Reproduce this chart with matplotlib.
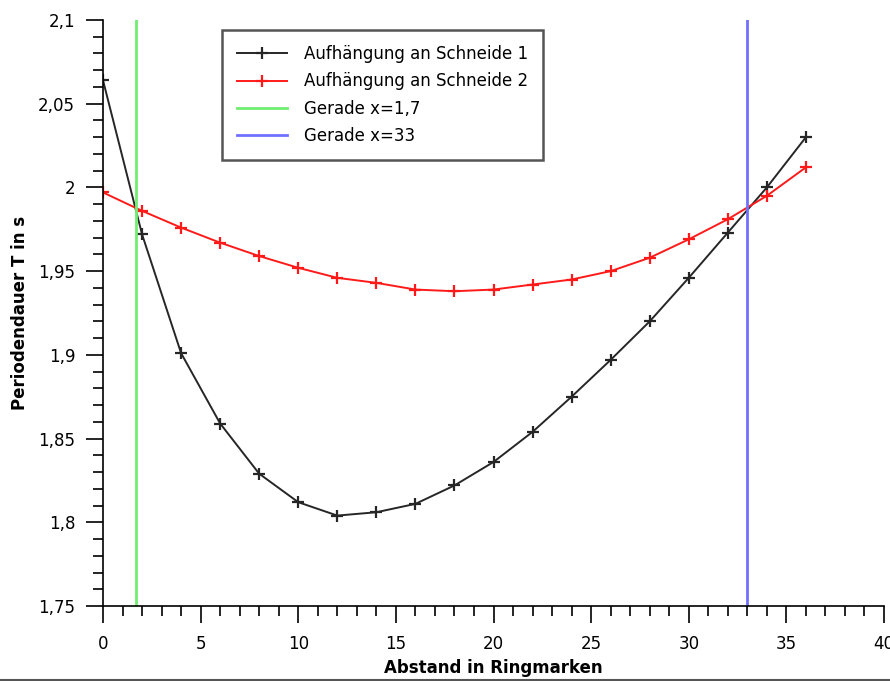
import matplotlib
matplotlib.use('Agg')
import matplotlib.pyplot as plt
from matplotlib import rcParams
from matplotlib.ticker import MultipleLocator, FuncFormatter
from matplotlib.lines import Line2D

# fonts and tick style
rcParams['font.family'] = 'sans-serif'
rcParams['font.sans-serif'] = ['DejaVu Sans']
rcParams['font.size'] = 12
rcParams['xtick.direction'] = 'out'
rcParams['ytick.direction'] = 'out'

#================ data =========================================

abstand = [0, 2, 4, 6, 8, 10, 12, 14, 16, 18, 20, 22, 24, 26, 28, 30, 32, 34, 36]

# Aufhaengung an Schneide 1 (black)
T_schneide1 = [2.064, 1.972, 1.901, 1.859, 1.829, 1.812, 1.804, 1.806, 1.811,
               1.822, 1.836, 1.854, 1.875, 1.897, 1.920, 1.946, 1.973, 2.000, 2.030]

# Aufhaengung an Schneide 2 (red)
T_schneide2 = [1.997, 1.986, 1.976, 1.967, 1.959, 1.952, 1.946, 1.943, 1.939,
               1.938, 1.939, 1.942, 1.945, 1.950, 1.958, 1.969, 1.981, 1.995, 2.012]

# vertical lines
gerade_x = [1.7, 33]
gerade_labels = ['Gerade x=1,7', 'Gerade x=33']
gerade_colors = ['#70ee70', '#7070ff']

series_labels = ['Aufhängung an Schneide 1', 'Aufhängung an Schneide 2']

#================ plotting ====================

fig = plt.figure(figsize=(8.9, 6.81), dpi=100)
ax = fig.add_axes([103/890., 1-606/681., (884-103)/890., (606-20)/681.])

ax.plot(abstand, T_schneide1, color='#262626', linewidth=1.4, marker='+',
        markersize=8, markeredgewidth=1.6, label=series_labels[0])
ax.plot(abstand, T_schneide2, color='#ff1a1a', linewidth=1.4, marker='+',
        markersize=8, markeredgewidth=1.6, label=series_labels[1])

for gx, gl, gc in zip(gerade_x, gerade_labels, gerade_colors):
    ax.axvline(gx, color=gc, linewidth=2, label=gl)

ax.set_xlim(0, 40)
ax.set_ylim(1.75, 2.1)

# only left and bottom axes
ax.spines['top'].set_visible(False)
ax.spines['right'].set_visible(False)
ax.spines['left'].set_linewidth(1.2)
ax.spines['bottom'].set_linewidth(1.2)

ax.xaxis.set_major_locator(MultipleLocator(5))
ax.xaxis.set_minor_locator(MultipleLocator(1))
ax.yaxis.set_major_locator(MultipleLocator(0.05))
ax.yaxis.set_minor_locator(MultipleLocator(0.01))

# german decimal comma
def komma(v, pos):
    return ('%g' % round(v, 3)).replace('.', ',')
ax.xaxis.set_major_formatter(FuncFormatter(komma))
ax.yaxis.set_major_formatter(FuncFormatter(komma))

ax.tick_params(axis='both', which='major', length=12, width=1.2, labelsize=12)
ax.tick_params(axis='both', which='minor', length=7, width=1.2)
ax.tick_params(axis='x', which='major', pad=9)
ax.tick_params(axis='y', which='major', pad=8)

fig.text(493/890., 1-668/681., 'Abstand in Ringmarken', ha='center', va='center',
         fontsize=12, fontweight='bold')
fig.text(20/890., 1-313/681., 'Periodendauer T in s', ha='center', va='center',
         rotation='vertical', fontsize=12, fontweight='bold')

leg = ax.legend(loc='upper left', bbox_to_anchor=(222/890., 1-30/681.),
                bbox_transform=fig.transFigure, borderaxespad=0, fancybox=False,
                framealpha=1, edgecolor='#555555', fontsize=12, handlelength=3.0,
                handletextpad=1.0, borderpad=0.9, labelspacing=0.56)
leg.get_frame().set_linewidth(1.8)

# grey line along the bottom edge of the picture
fig.add_artist(Line2D([0, 1], [1.5/681., 1.5/681.], color='#555555', linewidth=1.5))

plt.savefig('out.png', dpi=100)
